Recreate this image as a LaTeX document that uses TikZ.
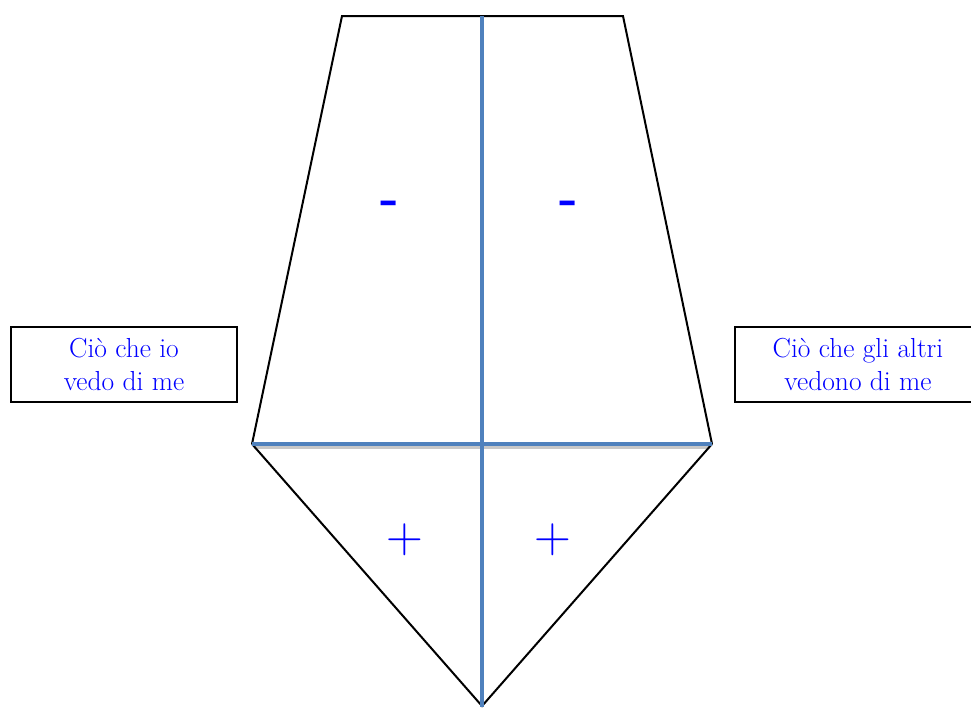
\documentclass[tikz,border=0pt]{standalone}
\usepackage{fontspec}
\begin{document}
\begin{tikzpicture}[x=1pt,y=-1pt,
  outline/.style={black,line width=2pt,line join=miter},
  axis/.style={draw=axisblue,line width=4pt},
  shadowline/.style={draw=shadowgray,line width=4pt},
  labelbox/.style={draw=black,line width=2pt,inner sep=0pt,align=center,
    font=\fontsize{27.5}{33}\selectfont,text=textblue},
  sign/.style={inner sep=0pt,text=textblue}
]
\definecolor{axisblue}{RGB}{79,129,189}
\definecolor{shadowgray}{RGB}{200,200,200}
\definecolor{textblue}{RGB}{0,0,255}
\useasboundingbox (0,0) rectangle (971,707);
\fill[white] (0,0) rectangle (971,707);
% outline points
\coordinate (tl) at (342,16);
\coordinate (tr) at (623,16);
\coordinate (ml) at (252,444);
\coordinate (mr) at (712,444);
\coordinate (bot) at (482,706);
\coordinate (top) at (482,16);
\coordinate (mid) at (482,444);
\coordinate (botv) at (482,707);
\coordinate (mls) at (254,447);
\coordinate (mrs) at (710,447);
% shadow and axes
\draw[shadowline] (mls) -- (mrs);
\draw[outline] (ml) -- (tl) -- (tr) -- (mr);
\draw[outline] (ml) -- (bot) -- (mr);
\draw[axis] (ml) -- (mr);
\draw[axis] (top) -- (botv);
% signs
\node[sign,font=\fontsize{50}{50}\selectfont\bfseries] (m1) at (390,208) {-};
\node[sign,font=\fontsize{50}{50}\selectfont\bfseries] (m2) at (569,208) {-};
\node[sign,font=\fontsize{51}{51}\selectfont] (p1) at (405,540) {+};
\node[sign,font=\fontsize{51}{51}\selectfont] (p2) at (553,540) {+};
% boxes
\node[labelbox,minimum width=226pt,minimum height=75pt] (lbox) at (124,364) {Ciò che io\\vedo di me};
\node[labelbox,minimum width=246pt,minimum height=75pt] (rbox) at (858,364) {Ciò che gli altri\\vedono di me};
\end{tikzpicture}
\end{document}
